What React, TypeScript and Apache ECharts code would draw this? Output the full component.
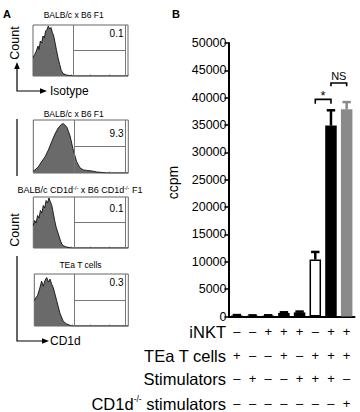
import React, { useEffect, useRef } from "react";
import * as echarts from "echarts";

const FONT = "'Liberation Sans', Arial, Helvetica, sans-serif";

// ---------- Panel A: flow histograms (x in % of box width, y = relative count) ----------
const isoX = [0, 1.8, 3.5, 5.3, 6.3, 7.7, 9.1, 10.5, 11.9, 13.3, 14.7, 16.1, 17.5, 18.9, 20.4, 21.8, 23.2, 24.6, 26.3, 28.1, 29.8, 31.6, 35.1, 38.6, 42.1, 100];
const isoH = [0.37, 0.43, 0.5, 0.6, 0.53, 0.7, 0.66, 0.8, 0.76, 0.9, 0.93, 1.0, 0.94, 0.97, 0.87, 0.8, 0.67, 0.53, 0.37, 0.23, 0.11, 0.05, 0.02, 0.01, 0, 0];
const f1X = [0, 1.8, 5.3, 8.8, 12.3, 15.8, 19.3, 22.8, 26.3, 29.8, 31.6, 35.1, 38.6, 42.1, 45.6, 49.1, 52.6, 56.1, 61.4, 66.7, 71.9, 77.2, 100];
const f1H = [0.04, 0.06, 0.12, 0.22, 0.31, 0.44, 0.6, 0.75, 0.87, 0.94, 0.95, 0.89, 0.72, 0.44, 0.22, 0.1, 0.06, 0.05, 0.04, 0.02, 0.01, 0, 0];
const koX = [0, 1.5, 3, 4.5, 6, 7.5, 9, 10.5, 12, 13.5, 15, 16.5, 18, 19.5, 21, 22.5, 24, 26, 28, 30, 32, 35, 40, 100];
const koH = [0.45, 0.55, 0.5, 0.65, 0.6, 0.75, 0.7, 0.85, 0.8, 0.95, 0.9, 1.0, 0.92, 0.85, 0.7, 0.55, 0.42, 0.3, 0.18, 0.08, 0.04, 0.02, 0, 0];
const teaX = [0, 1.5, 3.5, 5.5, 7.8, 9.5, 11.5, 13.2, 15, 16.7, 18.5, 20.2, 23.8, 27.3, 30.9, 34.4, 40, 100];
const teaH = [0.5, 0.55, 0.6, 0.72, 0.88, 0.78, 0.9, 0.95, 0.86, 0.92, 0.82, 0.75, 0.5, 0.25, 0.09, 0.04, 0, 0];

const histTitles = ["BALB/c x B6 F1", "BALB/c x B6 F1", "KO", "TEa T cells"];
const gatePercents = ["0.1", "9.3", "0.1", "0.3"];
const gateX = 42.8;
const gateRight = 97;

// ---------- Panel B: proliferation ----------
const columns = ["1", "2", "3", "4", "5", "6", "7", "8"];
const ccpmMean = [180, 150, 160, 650, 750, 10400, 34900, 37900];
const ccpmErr = [80, 60, 60, 120, 150, 1400, 2800, 1300];
const rowINKT = ["–", "–", "+", "+", "+", "–", "+", "+"];
const rowTEa = ["+", "–", "–", "+", "–", "+", "+", "+"];
const rowStim = ["–", "+", "–", "–", "+", "+", "+", "–"];
const rowKOStim = ["–", "–", "–", "–", "–", "–", "–", "+"];
const yTicks = { min: 0, max: 50000, interval: 5000 };
const sigLabels = ["*", "NS"];
const sigFrom = [5, 6];
const sigTo = [6, 7];
const sigLevel = [39700, 42700];
const sigLeg = [38900, 42100];

export default function App() {
  const ref = useRef<HTMLDivElement>(null);

  useEffect(() => {
    if (!ref.current) return;
    const chart = echarts.init(ref.current, undefined, { renderer: "svg" });

    const histGrids = [
      { left: 33, top: 25, width: 95, height: 51 },
      { left: 33.3, top: 120, width: 95, height: 53 },
      { left: 33.3, top: 197, width: 95, height: 51 },
      { left: 34.3, top: 274, width: 94, height: 52 },
    ];
    const histData = [
      [isoX, isoH],
      [f1X, f1H],
      [koX, koH],
      [teaX, teaH],
    ];
    const yMax = 1.02;

    const grids: any[] = histGrids.map((g) => ({
      ...g,
      show: true,
      borderColor: "#666",
      borderWidth: 1,
      backgroundColor: "transparent",
    }));
    grids.push({ left: 229, top: 43, width: 125.5, height: 277 });

    const xAxes: any[] = histGrids.map((_, i) => ({
      type: "value",
      gridIndex: i,
      min: 0,
      max: 100,
      interval: 20,
      axisLine: { show: false },
      axisTick: { show: true, inside: true, length: 2, lineStyle: { color: "#999", width: 0.6 } },
      minorTick: { show: true, splitNumber: 5, length: 1.2, lineStyle: { color: "#bbb", width: 0.5 } },
      axisLabel: { show: false },
      splitLine: { show: false },
    }));
    const yAxes: any[] = histGrids.map((_, i) => ({
      type: "value",
      gridIndex: i,
      min: 0,
      max: yMax,
      show: false,
    }));

    // bar chart axes
    xAxes.push({
      type: "category",
      gridIndex: 4,
      data: columns,
      axisLine: { show: true, lineStyle: { color: "#000", width: 2 } },
      axisTick: { show: false },
      axisLabel: { show: false },
    });
    const rows = [
      { data: rowINKT, offset: 15, name: "iNKT" },
      { data: rowTEa, offset: 39, name: "TEa T cells" },
      { data: rowStim, offset: 62, name: "Stimulators" },
      { data: rowKOStim, offset: 87, name: "{a|CD1d}{s|-/-}{a| stimulators}" },
    ];
    rows.forEach((r) => {
      xAxes.push({
        type: "category",
        gridIndex: 4,
        position: "bottom",
        offset: r.offset,
        data: r.data,
        name: r.name,
        nameLocation: "start",
        nameGap: 3,
        nameTextStyle: {
          fontFamily: FONT,
          fontSize: 16.5,
          color: "#000",
          align: "right",
          verticalAlign: "middle",
          rich: {
            a: { fontFamily: FONT, fontSize: 16.5, color: "#000" },
            s: { fontFamily: FONT, fontSize: 8.5, color: "#000", verticalAlign: "top", padding: [0, 0, 9, 0] },
          },
        },
        axisLine: { show: false },
        axisTick: { show: false },
        axisLabel: {
          show: true,
          interval: 0,
          margin: 0,
          verticalAlign: "middle",
          fontFamily: FONT,
          fontSize: 13,
          color: "#000",
        },
      });
    });
    yAxes.push({
      type: "value",
      gridIndex: 4,
      min: yTicks.min,
      max: yTicks.max,
      interval: yTicks.interval,
      axisLine: { show: true, lineStyle: { color: "#000", width: 2 } },
      axisTick: { show: true, length: 4.5, lineStyle: { color: "#000", width: 1.5 } },
      axisLabel: {
        fontFamily: FONT,
        fontSize: 12.5,
        color: "#000",
        margin: 2.5,
        formatter: (v: number) => String(v),
      },
      splitLine: { show: false },
    });

    const series: any[] = histData.map(([xs, hs], i) => ({
      type: "line",
      xAxisIndex: i,
      yAxisIndex: i,
      data: xs.map((x, k) => [x, hs[k]]),
      symbol: "none",
      lineStyle: { color: "#111", width: 0.9 },
      areaStyle: { color: "#6a6a6a", opacity: 1 },
      markLine: {
        silent: true,
        symbol: "none",
        label: { show: false },
        lineStyle: { color: "#777", width: 1, type: "solid" },
        data: [
          [{ coord: [gateX, 0] }, { coord: [gateX, yMax] }],
          [{ coord: [gateX, yMax / 2] }, { coord: [gateRight, yMax / 2] }],
          [{ coord: [gateRight, 0] }, { coord: [gateRight, yMax] }],
        ],
      },
    }));

    const barFill = ["#000", "#000", "#000", "#000", "#000", "#fff", "#000", "#8a8a8a"];
    const errColor = ["#000", "#000", "#000", "#000", "#000", "#000", "#000", "#8a8a8a"];

    series.push({
      type: "bar",
      xAxisIndex: 4,
      yAxisIndex: 4,
      barWidth: 11.5,
      data: ccpmMean.map((v, i) => ({
        value: v,
        itemStyle: {
          color: barFill[i],
          borderColor: "#000",
          borderWidth: i === 5 ? 1.5 : 0,
        },
      })),
    });
    series.push({
      type: "custom",
      xAxisIndex: 4,
      yAxisIndex: 4,
      data: ccpmMean.map((v, i) => [i, v, ccpmErr[i]]),
      renderItem: (params: any, api: any) => {
        const idx = api.value(0);
        const m = api.value(1);
        const e = api.value(2);
        const base = api.coord([idx, m]);
        const top = api.coord([idx, m + e]);
        const c = errColor[params.dataIndex];
        return {
          type: "group",
          children: [
            { type: "line", shape: { x1: base[0], y1: base[1], x2: top[0], y2: top[1] }, style: { stroke: c, lineWidth: 2.5 } },
            { type: "line", shape: { x1: top[0] - 4.2, y1: top[1], x2: top[0] + 4.2, y2: top[1] }, style: { stroke: c, lineWidth: 2.5 } },
          ],
        };
      },
      z: 3,
    });
    series.push({
      type: "custom",
      xAxisIndex: 4,
      yAxisIndex: 4,
      data: sigLabels.map((_, i) => [sigFrom[i], sigTo[i], sigLevel[i], sigLeg[i]]),
      renderItem: (params: any, api: any) => {
        const a = api.coord([api.value(0), api.value(2)]);
        const b = api.coord([api.value(1), api.value(2)]);
        const leg = api.coord([api.value(0), api.value(3)])[1];
        const lbl = sigLabels[params.dataIndex];
        const isStar = lbl === "*";
        return {
          type: "group",
          children: [
            {
              type: "polyline",
              shape: { points: [[a[0], leg], [a[0], a[1]], [b[0], a[1]], [b[0], leg]] },
              style: { stroke: "#000", lineWidth: 1.6, fill: "none" },
            },
            {
              type: "text",
              x: (a[0] + b[0]) / 2,
              y: a[1] - (isStar ? 4 : 6.5),
              style: {
                text: lbl,
                fontFamily: FONT,
                fontSize: isStar ? 13 : 11,
                fill: "#000",
                align: "center",
                verticalAlign: "middle",
              },
            },
          ],
        };
      },
      z: 4,
    });

    const txt = (x: number, y: number, text: string, size: number, extra: any = {}) => ({
      type: "text",
      x,
      y,
      ...(extra.rotation !== undefined ? { rotation: extra.rotation } : {}),
      style: {
        text,
        fontFamily: FONT,
        fontSize: size,
        fill: "#000",
        align: extra.align || "left",
        verticalAlign: "middle",
        fontWeight: extra.bold ? "bold" : "normal",
        ...(extra.rich ? { rich: extra.rich } : {}),
      },
    });

    const supRich = {
      a: { fontFamily: FONT, fontSize: 9, fill: "#000" },
      s: { fontFamily: FONT, fontSize: 5.5, fill: "#000", verticalAlign: "top", padding: [0, 0, 5, 0] },
    };

    const graphic: any[] = [
      txt(3, 13.5, "A", 11, { bold: true }),
      txt(172, 13.5, "B", 11, { bold: true }),
      txt(73.7, 15, histTitles[0], 8.5, { align: "center" }),
      txt(73.7, 113.5, histTitles[1], 8.5, { align: "center" }),
      txt(80, 190, "{a|BALB/c CD1d}{s|-/-}{a| x B6 CD1d}{s|-/-}{a| F1}", 9, { align: "center", rich: supRich }),
      txt(80.5, 265, histTitles[3], 8.5, { align: "center" }),
      txt(123.5, 33.5, gatePercents[0], 10, { align: "right" }),
      txt(123.5, 133, gatePercents[1], 10, { align: "right" }),
      txt(123.5, 208, gatePercents[2], 10, { align: "right" }),
      txt(123.5, 282.5, gatePercents[3], 10, { align: "right" }),
      txt(15, 43, "Count", 12.5, { align: "center", rotation: Math.PI / 2 }),
      txt(15, 230, "Count", 12.5, { align: "center", rotation: Math.PI / 2 }),
      txt(50, 91, "Isotype", 12, {}),
      txt(50, 341, "CD1d", 12, {}),
      txt(172.5, 182.5, "ccpm", 14, { align: "center", rotation: Math.PI / 2 }),
      { type: "polyline", shape: { points: [[17, 67], [17, 91], [41, 91]] }, style: { stroke: "#000", lineWidth: 1.2, fill: "none" } },
      { type: "polygon", shape: { points: [[14.2, 69], [19.8, 69], [17, 62]] }, style: { fill: "#000" } },
      { type: "polygon", shape: { points: [[40, 88.2], [40, 93.8], [47, 91]] }, style: { fill: "#000" } },
      { type: "line", shape: { x1: 17, y1: 119, x2: 17, y2: 176 }, style: { stroke: "#000", lineWidth: 1.2 } },
      { type: "polyline", shape: { points: [[17, 256], [17, 341], [43, 341]] }, style: { stroke: "#000", lineWidth: 1.2, fill: "none" } },
      { type: "polygon", shape: { points: [[42, 338.2], [42, 343.8], [49, 341]] }, style: { fill: "#000" } },
    ];

    chart.setOption({
      animation: false,
      backgroundColor: "#fff",
      textStyle: { fontFamily: FONT },
      grid: grids,
      xAxis: xAxes,
      yAxis: yAxes,
      series,
      graphic,
    });

    return () => chart.dispose();
  }, []);

  return (
    <div
      ref={ref}
      style={{ position: "fixed", left: 0, top: 0, width: 360, height: 412, background: "#fff" }}
    />
  );
}
